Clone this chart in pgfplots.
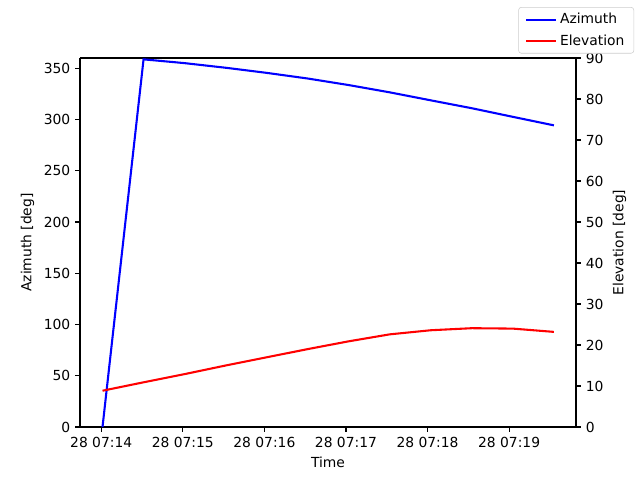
\documentclass[border=0pt]{standalone}
\usepackage{pgfplots}
\usepackage{pgfplotstable}
\pgfplotsset{compat=1.18}
\usepackage{fontspec}
\setmainfont{DejaVu Sans}
\pgfplotstableread{
t az el
0.016 0 8.85
0.519 358.7 10.9
1.022 355.0 12.9
1.525 350.5 15.0
2.028 345.5 17.0
2.531 340.0 19.0
3.034 333.6 20.9
3.537 326.5 22.6
4.040 318.7 23.6
4.543 311.0 24.1
5.046 302.6 24.0
5.549 294.3 23.2
}\data
\begin{document}
\fontsize{10.4}{12.5}\selectfont
\begin{tikzpicture}
\pgfplotsset{
  every axis/.append style={
    scale only axis, width=372pt, height=276.75pt,
    at={(0,0)}, anchor=south west,
    xmin=-0.26, xmax=5.82,
    tick align=outside, major tick length=3.65pt,
    every tick/.style={black, line width=0.83pt},
    axis line style={line width=0.83pt},
    /pgf/number format/assume math mode=true,
    tick label style={font=\fontsize{10.4}{12.5}\selectfont},
    label style={font=\fontsize{10.4}{12.5}\selectfont},
  }
}
\begin{axis}[
  axis y line*=left,
  xtick pos=bottom,
  ymin=0, ymax=360,
  ytick={0,50,...,350},
  xtick={0,1,2,3,4,5},
  xticklabels={28 07:14,28 07:15,28 07:16,28 07:17,28 07:18,28 07:19},
  xlabel={Time},
  ylabel={Azimuth [deg]},
]
\addplot[blue, line width=1.56pt] table[x=t,y=az]{\data};
\end{axis}
\begin{axis}[
  axis y line*=right,
  axis x line=none,
  ymin=0, ymax=90,
  ytick={0,10,...,90},
  ylabel={Elevation [deg]},
  legend style={at={(1.117,1.138)}, anchor=north east, draw=black!20, rounded corners=2pt,
    font=\fontsize{10.4}{12.5}\selectfont, row sep=2.5pt, inner xsep=5pt, inner ysep=2.5pt},
  legend cell align=left,
  legend image code/.code={\draw[#1] (0pt,0pt) -- (22.5pt,0pt);},
]
\addlegendimage{blue, line width=1.56pt}
\addlegendentry{Azimuth}
\addplot[red, line width=1.56pt] table[x=t,y=el]{\data};
\addlegendentry{Elevation}
\end{axis}
\path[use as bounding box] (-60pt,-39.75pt) rectangle (420pt,320.25pt);
\end{tikzpicture}
\end{document}
